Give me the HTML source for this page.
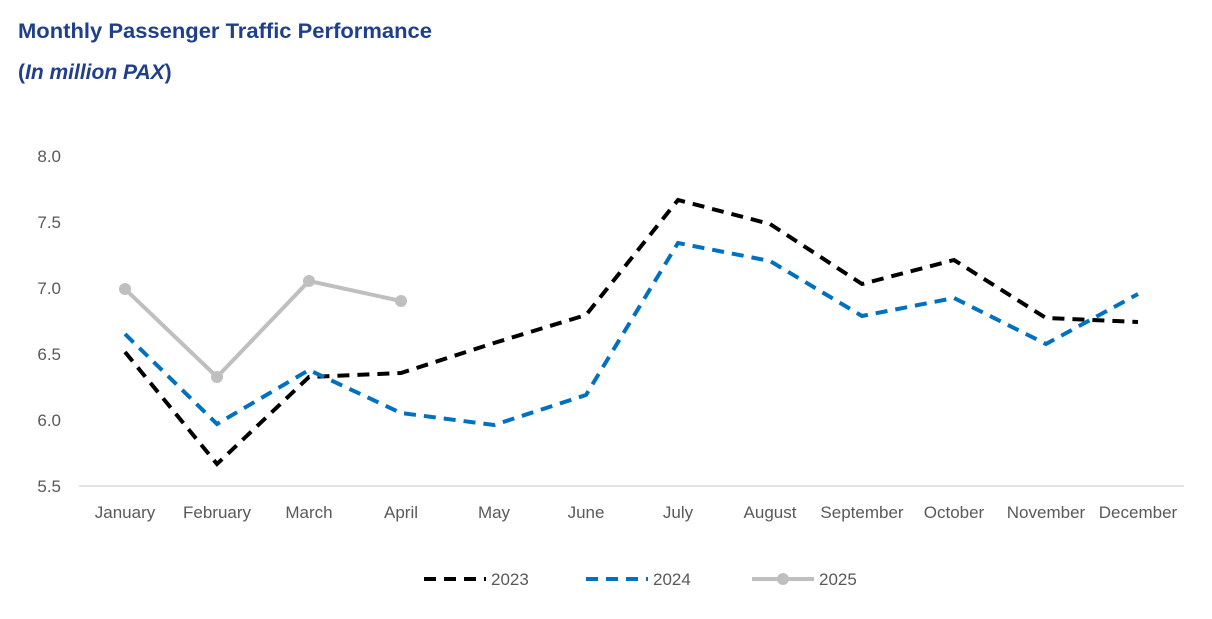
<!DOCTYPE html>
<html><head><meta charset="utf-8"><style>
body{margin:0;background:#fff}
svg{display:block}
text{font-family:"Liberation Sans",sans-serif}
</style></head><body>
<svg width="1212" height="619" viewBox="0 0 1212 619" xmlns="http://www.w3.org/2000/svg">
<rect width="1212" height="619" fill="#fff"/>
<text x="18" y="38" font-size="21" font-weight="bold" fill="#1F3F8A" textLength="414" lengthAdjust="spacingAndGlyphs">Monthly Passenger Traffic Performance</text>
<text x="18" y="79" font-size="21" font-weight="bold" fill="#1F3F8A">(<tspan font-style="italic">In million PAX</tspan>)</text>
<g font-size="17" fill="#595959" text-anchor="end">
<text x="61" y="162">8.0</text>
<text x="61" y="228">7.5</text>
<text x="61" y="294">7.0</text>
<text x="61" y="360">6.5</text>
<text x="61" y="426">6.0</text>
<text x="61" y="492">5.5</text>
</g>
<line x1="79" y1="486" x2="1184" y2="486" stroke="#d9d9d9" stroke-width="1.5"/>
<g font-size="17" fill="#595959" text-anchor="middle">
<text x="125" y="518">January</text>
<text x="217" y="518">February</text>
<text x="309" y="518">March</text>
<text x="401" y="518">April</text>
<text x="494" y="518">May</text>
<text x="586" y="518">June</text>
<text x="678" y="518">July</text>
<text x="770" y="518">August</text>
<text x="862" y="518">September</text>
<text x="954" y="518">October</text>
<text x="1046" y="518">November</text>
<text x="1138" y="518">December</text>
</g>
<polyline fill="none" stroke="#000" stroke-width="4" stroke-dasharray="12,8" points="125,352 217,464 309,377 401,373 494,343 586,315 678,200 770,224 862,284 954,260 1046,318 1138,322"/>
<polyline fill="none" stroke="#0070C0" stroke-width="4" stroke-dasharray="12,8" points="125,334 217,424 309,370 401,413 494,425 586,395 678,243 770,261 862,316 954,298 1046,344 1138,294"/>
<polyline fill="none" stroke="#BFBFBF" stroke-width="4" points="125,289 217,377 309,281 401,301"/>
<g fill="#BFBFBF"><circle cx="125" cy="289" r="6"/><circle cx="217" cy="377" r="6"/><circle cx="309" cy="281" r="6"/><circle cx="401" cy="301" r="6"/></g>
<line x1="424" y1="579" x2="486" y2="579" stroke="#000" stroke-width="4" stroke-dasharray="12,8"/>
<text x="491" y="585" font-size="17" fill="#595959">2023</text>
<line x1="586" y1="579" x2="648" y2="579" stroke="#0070C0" stroke-width="4" stroke-dasharray="12,8"/>
<text x="653" y="585" font-size="17" fill="#595959">2024</text>
<line x1="752" y1="579" x2="814" y2="579" stroke="#BFBFBF" stroke-width="4"/>
<circle cx="783" cy="579" r="6" fill="#BFBFBF"/>
<text x="819" y="585" font-size="17" fill="#595959">2025</text>
</svg>
</body></html>
